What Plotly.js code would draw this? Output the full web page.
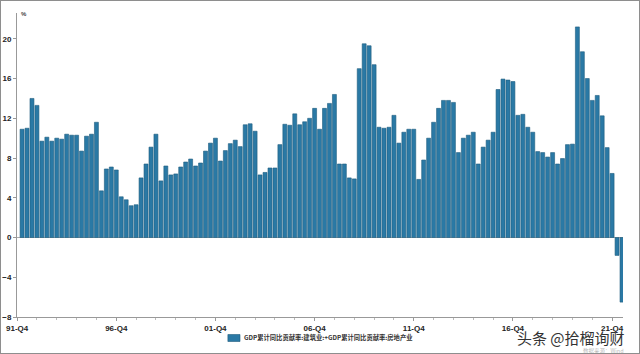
<!DOCTYPE html>
<html>
<head>
<meta charset="utf-8">
<script src="https://cdn.plot.ly/plotly-3.0.1.min.js"></script>
<style>
html,body{margin:0;padding:0;background:#fff;}
#wrap{position:relative;width:640px;height:354px;box-sizing:border-box;border:1px solid #8e8e8e;overflow:hidden;}
#chart{position:absolute;left:-1px;top:-1px;width:640px;height:354px;}
</style>
</head>
<body>
<div id="wrap"><div id="chart"></div></div>
<script>
// Quarter categories from 91-Q4 (axis origin, no bar) to 22-Q2
const startYear = 1991, startQuarter = 4, endYear = 2022, endQuarter = 2;
const quarters = [];
for (let y = startYear; y <= endYear; y++) {
  for (let q = 1; q <= 4; q++) {
    if (y === startYear && q < startQuarter) continue;
    if (y === endYear && q > endQuarter) continue;
    quarters.push(String(y).slice(2) + '-Q' + q);
  }
}

// GDP累计同比贡献率:建筑业 + 房地产业 (%), 92-Q1 .. 22-Q2
const contribution = [
  10.9, 11.0, 14.0, 13.3, 9.7, 10.1, 9.7, 10.0, 9.9, 10.4,
  10.3, 10.3, 8.7, 10.2, 10.4, 11.6, 4.7, 6.9, 7.1, 6.8,
  4.1, 3.8, 3.2, 3.3, 6.0, 7.4, 9.1, 10.4, 5.7, 7.2,
  6.3, 6.4, 7.1, 7.6, 7.9, 7.2, 7.5, 8.7, 9.5, 10.0,
  7.7, 8.75, 9.45, 9.8, 9.15, 11.35, 11.45, 10.7, 6.3, 6.55,
  7.0, 7.0, 9.35, 11.4, 11.3, 12.45, 11.35, 11.65, 12.0, 13.0,
  10.9, 13.0, 13.5, 14.4, 7.4, 7.4, 6.0, 5.9, 17.0, 19.5,
  19.3, 17.4, 11.1, 11.0, 11.1, 12.3, 9.5, 10.6, 10.9, 10.9,
  5.85, 7.8, 10.0, 11.6, 13.0, 13.8, 13.8, 13.6, 8.55, 10.0,
  10.3, 10.6, 7.4, 9.1, 9.8, 10.6, 14.9, 15.95, 15.85, 15.7,
  12.3, 12.4, 11.1, 10.6, 8.65, 8.55, 8.1, 8.55, 7.4, 7.95,
  9.35, 9.4, 21.2, 18.7, 16.0, 13.8, 14.3, 12.25, 9.05, 6.45,
  -1.8, -6.5
];

const tickLabels = ['91-Q4', '96-Q4', '01-Q4', '06-Q4', '11-Q4', '16-Q4', '21-Q4'];
const yTicks = [-8, -4, 0, 4, 8, 12, 16, 20];
const seriesName = 'GDP累计同比贡献率:建筑业:+GDP累计同比贡献率:房地产业';
const barColor = '#2a79a5';

const barLabels = quarters.slice(1);
const xPos = barLabels.map(l => quarters.indexOf(l));
const tickPos = tickLabels.map(l => quarters.indexOf(l));

const tickFont = {family: 'Liberation Sans, Arial, sans-serif', size: 8, color: '#222', weight: 'bold'};

const trace = {
  type: 'bar',
  x: xPos,
  y: contribution,
  customdata: barLabels,
  name: seriesName,
  marker: {color: barColor, line: {color: '#1f5c7e', width: 0.6}},
  hovertemplate: '%{customdata}: %{y}<extra></extra>',
  showlegend: false
};

const layout = {
  width: 640, height: 354,
  margin: {l: 17, r: 17, t: 13, b: 37, autoexpand: false},
  paper_bgcolor: '#fff', plot_bgcolor: '#fff',
  bargap: 0.2,
  showlegend: false,
  xaxis: {
    type: 'linear',
    range: [-0.02, 122.2],
    tickmode: 'array', tickvals: tickPos, ticktext: tickLabels,
    ticks: 'outside', ticklen: 3, tickcolor: '#999', tickwidth: 1,
    tickfont: tickFont,
    showline: true, linecolor: '#999', linewidth: 1,
    showgrid: false, zeroline: false,
    minor: {dtick: 4, tick0: 0, ticks: 'outside', ticklen: 2, tickcolor: '#bbb', showgrid: false}
  },
  yaxis: {
    range: [-8, 22.6],
    tickmode: 'array', tickvals: yTicks,
    ticks: 'outside', ticklen: 3, tickcolor: '#999', tickwidth: 1,
    tickfont: tickFont,
    showline: true, linecolor: '#999', linewidth: 1,
    showgrid: false,
    zeroline: true, zerolinecolor: '#aaa', zerolinewidth: 1
  },
  shapes: [
    {type: 'rect', xref: 'paper', yref: 'paper', x0: 0.348, x1: 0.368, y0: -0.0806, y1: -0.0576,
     fillcolor: barColor, line: {color: '#1f5c7e', width: 0.6}}
  ],
  annotations: [
    {xref: 'paper', yref: 'paper', x: 0.371, y: -0.069, xanchor: 'left', yanchor: 'middle',
     text: seriesName, showarrow: false,
     font: {family: 'Noto Sans CJK SC, sans-serif', size: 6.3, color: '#333', weight: 'bold'}},
    {xref: 'paper', yref: 'paper', x: 0.004, y: 0.997, xanchor: 'left', yanchor: 'middle',
     text: '%', showarrow: false, font: {family: 'Liberation Sans, Arial, sans-serif', size: 6, color: '#444', weight: 'bold'}},
    {xref: 'paper', yref: 'paper', x: 0.914, y: -0.068, xanchor: 'center', yanchor: 'middle',
     text: '头条 @拾榴询财', showarrow: false, font: {family: 'Noto Sans CJK SC, sans-serif', size: 15, color: '#333'}},
    {xref: 'paper', yref: 'paper', x: 0.968, y: -0.113, xanchor: 'center', yanchor: 'middle',
     text: '数据来源：Wind', showarrow: false, font: {family: 'Noto Sans CJK SC, sans-serif', size: 5.5, color: '#bbb'}}
  ]
};

Plotly.newPlot('chart', [trace], layout, {displayModeBar: false, staticPlot: true});
</script>
</body>
</html>
